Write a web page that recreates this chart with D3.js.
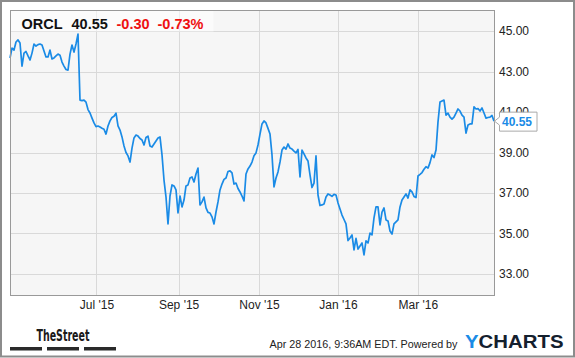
<!DOCTYPE html>
<html>
<head>
<meta charset="utf-8">
<script src="https://cdn.jsdelivr.net/npm/d3@7"></script>
<style>
  body { margin: 0; background: #fff; }
  svg { display: block; font-family: "Liberation Sans", Arial, sans-serif; }
</style>
</head>
<body>
<svg id="chart"></svg>
<script>
// daily closes, Apr '15 -> Apr '16
const closes = [
    43.67, 44.16, 44.06, 44.46, 44.56, 44.41, 43.27, 43.91, 43.99, 43.77,
    43.57, 43.91, 44.36, 44.26, 44.33, 44.36, 44.31, 44.01, 43.72, 43.72,
    44.06, 43.62, 43.67, 43.77, 43.86, 43.81, 43.47, 43.27, 43.10, 43.07,
    43.86, 44.31, 43.96, 44.36, 44.85, 41.59, 41.56, 41.59, 41.49, 41.12,
    40.95, 40.70,
    40.46, 40.28, 40.31, 40.26, 40.20, 40.15, 39.91, 40.31, 40.56, 40.73,
    40.79, 40.94, 40.31, 40.11, 39.77, 39.32, 39.00, 38.83, 38.53, 39.22,
    39.72, 39.86, 39.81, 39.69, 39.62, 39.37, 39.74, 39.81, 39.32, 39.27,
    39.42, 39.57, 39.72, 39.77, 38.88, 37.64, 36.80, 35.47, 36.85,
    37.40, 37.35, 37.15, 36.01, 36.85, 36.31, 36.65, 37.35, 37.40, 37.74,
    37.79, 37.54, 37.94, 38.23, 36.41, 36.56, 36.80, 36.26, 36.04, 36.01,
    35.82, 35.47, 36.06, 36.56, 37.15, 37.44, 37.67, 37.74, 38.06, 38.09,
    37.99, 37.44, 37.49, 37.22, 37.05, 36.85, 36.61, 37.94, 38.19, 38.33,
    38.53, 38.84, 38.98, 39.37, 39.91, 40.41, 40.56, 40.46, 40.19, 39.91,
    38.88, 37.30, 37.74, 38.04, 38.53, 39.12, 39.27, 39.17, 39.42, 39.22,
    39.17, 39.07, 38.98, 39.15, 37.79, 39.12, 38.93, 38.73, 38.58, 37.89,
    37.27, 37.49, 38.83, 36.90, 36.38, 36.41, 36.46, 36.80, 36.95, 36.90,
    36.83,
    36.93, 36.90, 36.51, 36.21, 35.91, 35.69, 35.47, 34.65, 34.78, 34.93,
    34.19, 34.76, 34.23, 34.38, 34.53, 33.94, 34.63, 34.53, 35.02, 34.93,
    35.77, 36.31, 36.31, 35.42, 36.06, 36.26, 35.67, 35.62, 35.12, 34.97,
    35.47, 35.57, 35.67, 36.31, 36.65, 36.80, 36.95, 36.75, 37.15, 37.05,
    36.83, 36.77, 37.84, 37.92, 38.01, 38.17, 38.30, 38.23, 38.50, 38.88,
    38.75, 39.12, 40.51, 41.49, 41.54, 41.59, 40.85, 40.95, 40.75, 40.65,
    40.75, 40.95, 41.15, 41.05, 40.85, 40.75, 39.96, 40.36, 40.41, 40.41,
    41.25, 41.15, 41.17, 41.05, 41.20, 40.95, 40.70, 40.73, 40.75, 40.83,
    40.55
];

const yTicks = [33, 35, 37, 39, 41, 43, 45];
const xTickLabels = ["Jul '15", "Sep '15", "Nov '15", "Jan '16", "Mar '16"];
const xTickIndex = [43.2, 84.3, 124.5, 164, 203.9]; // first trading day of each month

const ticker = 'ORCL';
const lastPrice = 40.55;
const change = -0.30;
const changePct = -0.73;
const stamp = 'Apr 28 2016, 9:36AM EDT.';

const W = 575, H = 358;
const plot = { left: 10, top: 10, right: 494, bottom: 295 };
const lineColor = '#1a8be6';

const svg = d3.select('#chart').attr('width', W).attr('height', H);

// outer frame
svg.append('rect')
    .attr('x', 1).attr('y', 1)
    .attr('width', W - 2).attr('height', H - 2.5)
    .attr('fill', '#fff')
    .attr('stroke', '#8c8c8c')
    .attr('stroke-width', 2);

const x = d3.scaleLinear()
    .domain([0, closes.length - 1])
    .range([plot.left, plot.right]);

const y = d3.scaleLinear()
    .domain([31.96, 46.04])
    .range([plot.bottom, plot.top]);

// plot background
svg.append('rect')
    .attr('x', plot.left).attr('y', plot.top)
    .attr('width', plot.right - plot.left)
    .attr('height', plot.bottom - plot.top)
    .attr('fill', '#f6f6f6');

// gridlines
svg.append('g')
    .selectAll('line')
    .data(yTicks)
    .enter()
    .append('line')
    .attr('x1', plot.left).attr('x2', plot.right)
    .attr('y1', d => Math.round(y(d)) + 0.5)
    .attr('y2', d => Math.round(y(d)) + 0.5)
    .attr('stroke', '#d9d9d9');

svg.append('g')
    .selectAll('line')
    .data(xTickIndex)
    .enter()
    .append('line')
    .attr('x1', d => Math.round(x(d)) + 0.5)
    .attr('x2', d => Math.round(x(d)) + 0.5)
    .attr('y1', plot.top).attr('y2', plot.bottom)
    .attr('stroke', '#d9d9d9');

// price line
const line = d3.line()
    .x((d, i) => x(i))
    .y(d => y(d));

svg.append('path')
    .datum(closes)
    .attr('d', line)
    .attr('fill', 'none')
    .attr('stroke', lineColor)
    .attr('stroke-width', 1.7)
    .attr('stroke-linejoin', 'round');

// header box over the plot
svg.append('rect')
    .attr('x', plot.left + 0.5).attr('y', plot.top + 0.5)
    .attr('width', 203).attr('height', 21)
    .attr('fill', '#fff')
    .attr('opacity', 0.55);

// plot border
svg.append('rect')
    .attr('x', plot.left + 0.5).attr('y', plot.top + 0.5)
    .attr('width', plot.right - plot.left)
    .attr('height', plot.bottom - plot.top)
    .attr('fill', 'none')
    .attr('stroke', '#999');

// axes
const yAxis = svg.append('g')
    .attr('transform', `translate(${plot.right},0)`)
    .call(d3.axisRight(y).tickValues(yTicks).tickFormat(d3.format('.2f')).tickSize(0).tickPadding(5));
yAxis.select('.domain').remove();
yAxis.selectAll('text')
    .attr('font-size', 12)
    .attr('font-family', '"Liberation Sans", Arial, sans-serif')
    .attr('fill', '#222');

const xAxis = svg.append('g')
    .attr('transform', `translate(0,${plot.bottom})`)
    .call(d3.axisBottom(x).tickValues(xTickIndex).tickFormat((d, i) => xTickLabels[i]).tickSize(0).tickPadding(5.5));
xAxis.select('.domain').remove();
xAxis.selectAll('text')
    .attr('font-size', 12)
    .attr('font-family', '"Liberation Sans", Arial, sans-serif')
    .attr('fill', '#222');

// last price flag (sits over the 41.00 label, as in the original)
const lastY = y(closes[closes.length - 1]);
svg.append('path')
    .attr('d', `M${plot.right + 0.5},${lastY} L${plot.right + 5.5},${lastY - 4} L${plot.right + 5.5},${lastY - 9} L${plot.right + 43},${lastY - 9} L${plot.right + 43},${lastY + 10} L${plot.right + 5.5},${lastY + 10} L${plot.right + 5.5},${lastY + 4} Z`)
    .attr('fill', '#fff')
    .attr('stroke', '#aaa');
svg.append('text')
    .attr('x', plot.right + 8)
    .attr('y', lastY + 4.5)
    .attr('font-size', 12)
    .attr('font-weight', 'bold')
    .attr('fill', lineColor)
    .text(lastPrice.toFixed(2));

// header
const header = svg.append('text')
    .attr('y', 29)
    .attr('font-size', 14.5)
    .attr('font-weight', 'bold');
header.append('tspan').attr('x', 21.5).attr('fill', '#111').text(ticker);
header.append('tspan').attr('x', 71.5).attr('fill', '#111').text(lastPrice.toFixed(2));
header.append('tspan').attr('x', 116.5).attr('fill', '#ee1111').text(change.toFixed(2));
header.append('tspan').attr('x', 157.5).attr('fill', '#ee1111').text(changePct.toFixed(2) + '%');

// footer: TheStreet
svg.append('text')
    .attr('x', 36.5).attr('y', 341)
    .attr('font-size', 15)
    .attr('font-weight', 'bold')
    .attr('font-family', '"Liberation Sans Narrow", "DejaVu Sans Condensed", Arial, sans-serif')
    .attr('textLength', 53)
    .attr('lengthAdjust', 'spacingAndGlyphs')
    .attr('fill', '#1a1a1a')
    .text('TheStreet');

svg.append('g')
    .selectAll('rect')
    .data([[10, 42], [47, 79], [84, 116]])
    .enter()
    .append('rect')
    .attr('x', d => d[0]).attr('y', 347)
    .attr('width', d => d[1] - d[0]).attr('height', 3.5)
    .attr('fill', '#2a2a2a');

// footer: timestamp + YCharts
svg.append('text')
    .attr('x', 269.5).attr('y', 348)
    .attr('font-size', 11)
    .attr('textLength', 188)
    .attr('lengthAdjust', 'spacingAndGlyphs')
    .attr('fill', '#222')
    .text(stamp + ' Powered by');

const yc = svg.append('text')
    .attr('x', 465).attr('y', 348)
    .attr('font-size', 18)
    .attr('font-weight', 900)
    .attr('textLength', 98.5)
    .attr('lengthAdjust', 'spacingAndGlyphs');
yc.append('tspan').attr('fill', '#1a8be6').text('Y');
yc.append('tspan').attr('fill', '#14202e').text('CHARTS');
</script>
</body>
</html>
